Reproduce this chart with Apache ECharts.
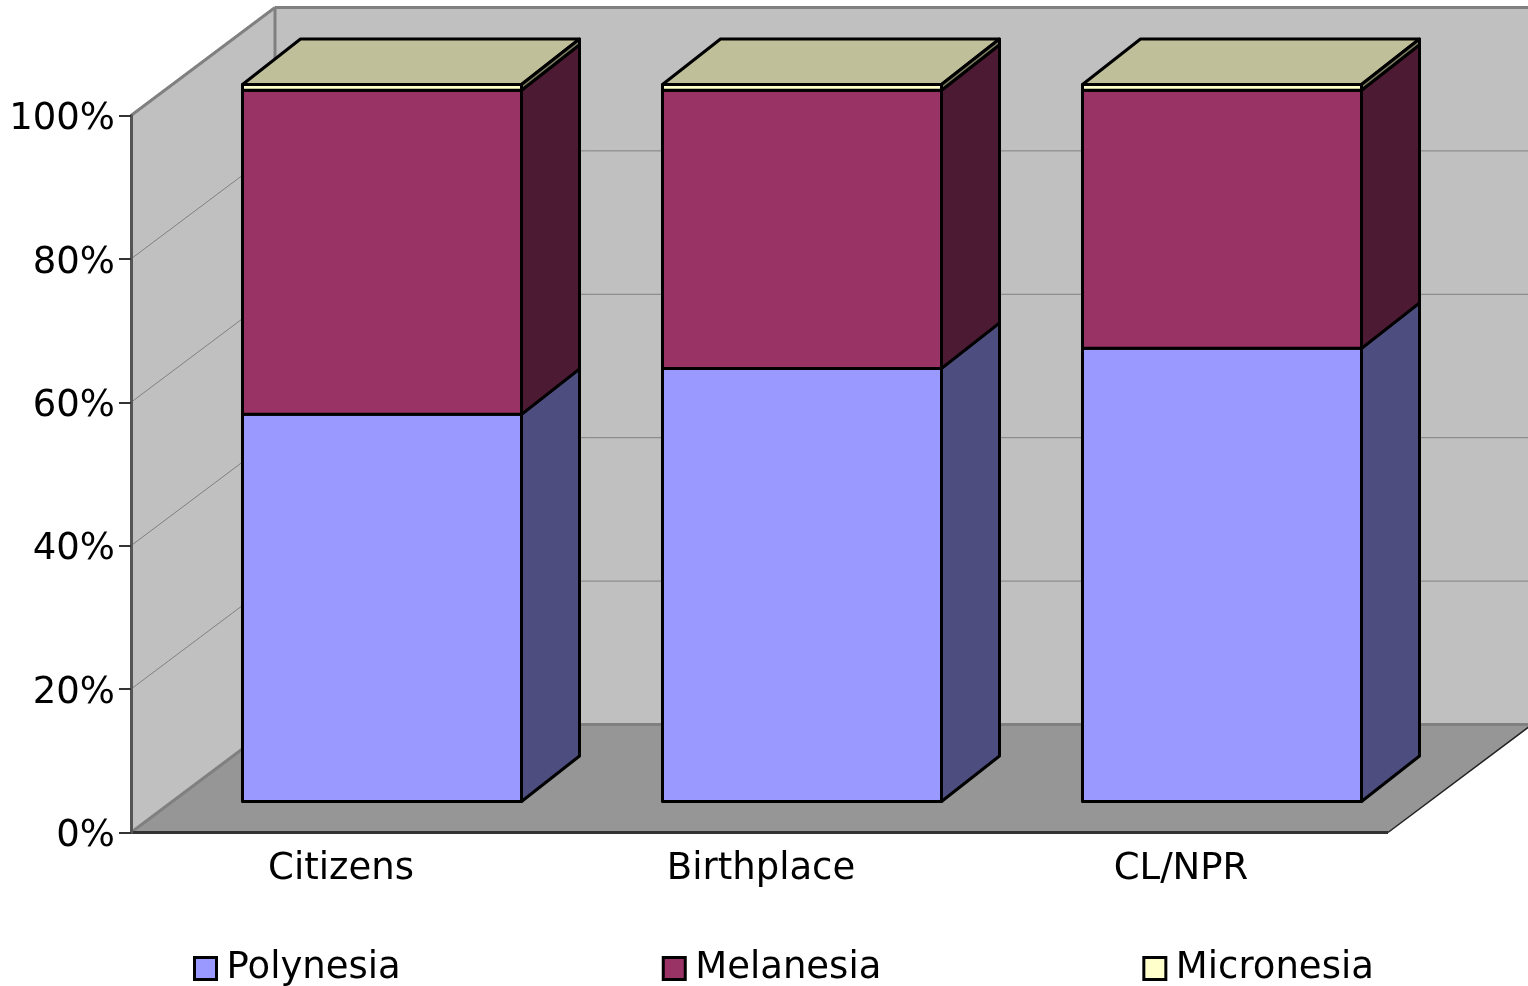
<!DOCTYPE html>
<html>
<head>
<meta charset="utf-8">
<style>html,body{margin:0;padding:0;background:#fff}#chart{width:1528px;height:986px}</style>
<script src="https://cdn.jsdelivr.net/npm/echarts@6/dist/echarts.min.js"></script>
</head>
<body>
<div id="chart"></div>
<script>
// Share of each region by population group, in percent
const categories = ['Citizens', 'Birthplace', 'CL/NPR'];
const polynesia = [54.0, 60.4, 63.2];
const melanesia = [45.2, 38.8, 36.0];
const micronesia = [0.8, 0.8, 0.8];
const gridValues = [20, 40, 60, 80, 100];

// Oblique projection offsets for the box walls and for the columns
const WALL_DX = 144, WALL_DY = -108;
const BAR_SHIFT_X = 41, BAR_SHIFT_Y = -31;
const BAR_DX = 58, BAR_DY = -45.5;
const BAR_HALF = 139.5;
const FLOOR_INSET = 3;
const FONT = '"DejaVu Sans", sans-serif';
const FONT_SIZE = 37;

function poly(points, fill, stroke, lineWidth) {
  return {
    type: 'polygon',
    shape: { points },
    style: { fill, stroke, lineWidth, lineJoin: 'round' }
  };
}
function seg(x1, y1, x2, y2, stroke, lineWidth) {
  return { type: 'line', shape: { x1, y1, x2, y2 }, style: { stroke, lineWidth } };
}

// Side wall, back wall, floor and their gridlines
function renderBox(params, api) {
  const c = params.coordSys;
  const l = c.x, r = c.x + c.width - FLOOR_INSET, t = c.y, b = c.y + c.height;
  const children = [
    poly([[l, t], [l + WALL_DX, t + WALL_DY], [l + WALL_DX, b + WALL_DY], [l, b]], '#c0c0c0'),
    poly([[l + WALL_DX, t + WALL_DY], [r + WALL_DX, t + WALL_DY], [r + WALL_DX, b + WALL_DY], [l + WALL_DX, b + WALL_DY]], '#c0c0c0'),
    poly([[l, b], [l + WALL_DX, b + WALL_DY], [r + WALL_DX, b + WALL_DY], [r, b]], '#969696')
  ];
  gridValues.forEach(function (v) {
    const y = api.coord([0, v])[1];
    if (v < 100) {
      children.push(seg(l, y, l + WALL_DX, y + WALL_DY, '#808080', 1));
      children.push(seg(l + WALL_DX, y + WALL_DY, r + WALL_DX, y + WALL_DY, '#808080', 1));
    }
  });
  children.push(seg(l, t, l + WALL_DX, t + WALL_DY, '#808080', 3));
  children.push(seg(l + WALL_DX, t + WALL_DY, r + WALL_DX, t + WALL_DY, '#808080', 3));
  children.push(seg(l + WALL_DX, t + WALL_DY, l + WALL_DX, b + WALL_DY, '#808080', 3));
  children.push(seg(l, b, l + WALL_DX, b + WALL_DY, '#808080', 3));
  children.push(seg(l + WALL_DX, b + WALL_DY, r + WALL_DX, b + WALL_DY, '#808080', 3));
  children.push(seg(r, b, r + WALL_DX, b + WALL_DY, '#222222', 1.5));
  children.push(seg(l, b, r, b, '#333333', 3));
  return { type: 'group', children };
}

// One stacked block: front face, right side and top
function blockRenderer(front, side, top) {
  return function (params, api) {
    const cat = api.value(0), base = api.value(1), size = api.value(2);
    const p0 = api.coord([cat, base]);
    const p1 = api.coord([cat, base + size]);
    const x0 = p0[0] + BAR_SHIFT_X - BAR_HALF, x1 = p0[0] + BAR_SHIFT_X + BAR_HALF;
    const yb = p0[1] + BAR_SHIFT_Y, yt = p1[1] + BAR_SHIFT_Y;
    return {
      type: 'group',
      children: [
        poly([[x0, yt], [x1, yt], [x1 + BAR_DX, yt + BAR_DY], [x0 + BAR_DX, yt + BAR_DY]], top, '#000', 3),
        poly([[x1, yb], [x1 + BAR_DX, yb + BAR_DY], [x1 + BAR_DX, yt + BAR_DY], [x1, yt]], side, '#000', 3),
        poly([[x0, yb], [x1, yb], [x1, yt], [x0, yt]], front, '#000', 3)
      ]
    };
  };
}

function stacked(values, bases) {
  return values.map(function (v, i) { return [i, bases[i], v]; });
}
const melBase = polynesia.slice();
const micBase = polynesia.map(function (v, i) { return v + melanesia[i]; });
const zeroBase = polynesia.map(function () { return 0; });

const chart = echarts.init(document.getElementById('chart'), null, { renderer: 'canvas' });
chart.setOption({
  animation: false,
  backgroundColor: '#fff',
  grid: { left: 131, top: 115.5, width: 1260, height: 717, containLabel: false },
  legend: {
    data: ['Polynesia', 'Melanesia', 'Micronesia'],
    left: 188, top: 945,
    itemWidth: 22, itemHeight: 22, itemGap: 261,
    icon: 'rect',
    itemStyle: { borderColor: '#000', borderWidth: 3 },
    textStyle: { fontFamily: FONT, fontSize: FONT_SIZE, color: '#000', padding: [0, 0, 0, 5] }
  },
  xAxis: {
    type: 'category',
    data: categories,
    z: 5,
    axisLine: { show: false },
    axisTick: { show: false },
    axisLabel: { fontFamily: FONT, fontSize: FONT_SIZE, color: '#000', margin: 18 }
  },
  yAxis: {
    type: 'value',
    min: 0, max: 100, interval: 20,
    z: 5,
    splitLine: { show: false },
    axisLine: { show: true, lineStyle: { color: '#555', width: 3 } },
    axisTick: { show: true, length: 12, lineStyle: { color: '#333', width: 2 } },
    axisLabel: { fontFamily: FONT, fontSize: FONT_SIZE, color: '#000', margin: 16, verticalAlign: 'top', lineHeight: 8, formatter: '{value}%' }
  },
  series: [
    { type: 'custom', name: 'box', z: 1, silent: true, clip: false, data: [[0, 0]],
      renderItem: renderBox, encode: { x: 0, y: 1 } },
    { type: 'custom', name: 'Polynesia', z: 2, clip: false, itemStyle: { color: '#9999ff' },
      data: stacked(polynesia, zeroBase), encode: { x: 0, y: 2 },
      renderItem: blockRenderer('#9999ff', '#4d4d80', '#808080') },
    { type: 'custom', name: 'Melanesia', z: 3, clip: false, itemStyle: { color: '#993366' },
      data: stacked(melanesia, melBase), encode: { x: 0, y: 2 },
      renderItem: blockRenderer('#993366', '#4d1a33', '#808080') },
    { type: 'custom', name: 'Micronesia', z: 4, clip: false, itemStyle: { color: '#ffffcc' },
      data: stacked(micronesia, micBase), encode: { x: 0, y: 2 },
      renderItem: blockRenderer('#ffffcc', '#808066', '#bfbf99') }
  ]
});
</script>
</body>
</html>
